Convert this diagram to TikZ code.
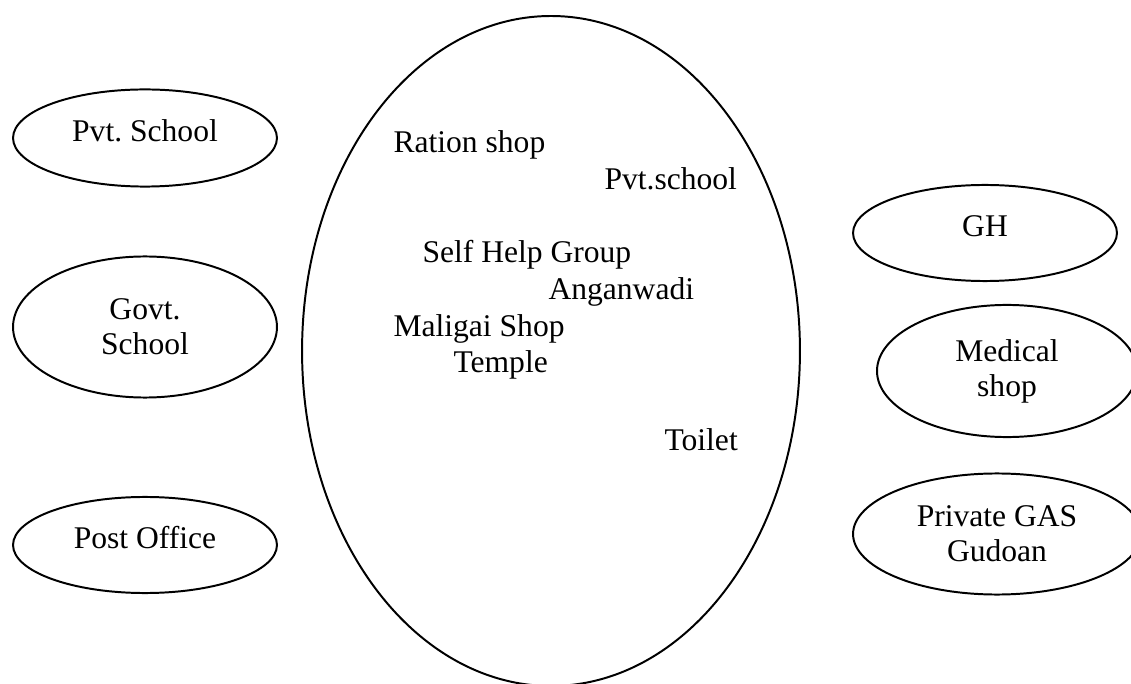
\documentclass[tikz,border=0pt]{standalone}
\usepackage{fontspec}
\setmainfont{Liberation Serif}
\usetikzlibrary{shapes.geometric}
\frenchspacing
\tikzset{oval/.style={ellipse,draw,line width=0.75pt,inner sep=0pt,align=center},
  oneline/.style={text height=8pt,text depth=5pt}}
\begin{document}
\begin{tikzpicture}[x=0.38pt,y=-0.38pt,every node/.style={font=\fontsize{12}{13.3}\selectfont}]
\clip (0,0) rectangle (1131,684);
% the village itself
\node[oval,minimum width=189.2pt,minimum height=254.6pt] (village) at (551,351) {};
\foreach \nm/\x/\y/\txt in {ration/393/153/Ration shop, pvtin/604/190/Pvt.school, shg/422/263/Self Help Group, anganwadi/548/300/Anganwadi, maligai/393/337/Maligai Shop, temple/453/373/Temple, toilet/664/450/Toilet}
  \node[anchor=base west,inner sep=0pt] (\nm) at (\x,\y) {\txt};
% outside, left
\node[oval,oneline,minimum width=100.3pt,minimum height=36.9pt] (pvtsch) at (145,138) {Pvt. School};
\node[oval,minimum width=100.3pt,minimum height=53.6pt] (govtsch) at (145,327) {Govt.\\School};
\node[oval,oneline,minimum width=100.3pt,minimum height=36.5pt] (postoff) at (145,545) {Post Office};
% outside, right
\node[oval,oneline,minimum width=100.3pt,minimum height=36.5pt] (gh) at (985,233) {GH};
\node[oval,minimum width=98.8pt,minimum height=50.2pt] (medshop) at (1007,371) {Medical\\shop};
\node[oval,minimum width=109.4pt,minimum height=46pt] (gas) at (997,534) {Private GAS\\Gudoan};
\end{tikzpicture}
\end{document}
